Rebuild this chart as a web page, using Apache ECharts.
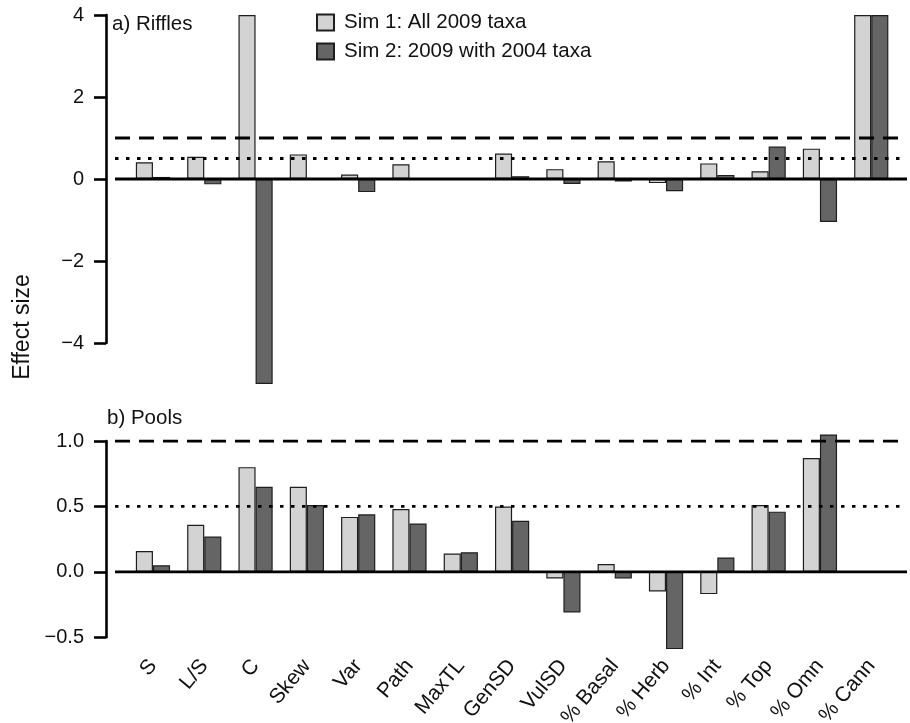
<!DOCTYPE html>
<html>
<head>
<meta charset="utf-8">
<script src="https://cdn.jsdelivr.net/npm/echarts@6/dist/echarts.min.js"></script>
<style>html,body{margin:0;padding:0;background:#fff}#c{width:910px;height:723px}</style>
</head>
<body>
<div id="c"></div>
<script>
const categories = ['S','L/S','C','Skew','Var','Path','MaxTL','GenSD','VulSD','% Basal','% Herb','% Int','% Top','% Omn','% Cann'];
const seriesNames = ['Sim 1: All 2009 taxa','Sim 2: 2009 with 2004 taxa'];
const rifflesSim1 = [0.41, 0.54, 4, 0.60, 0.11, 0.36, 0, 0.62, 0.24, 0.43, -0.10, 0.38, 0.19, 0.74, 4];
const rifflesSim2 = [0.05, -0.13, -5, 0, -0.32, 0, 0, 0.07, -0.12, -0.06, -0.30, 0.10, 0.79, -1.05, 4];
const poolsSim1 = [0.16, 0.36, 0.80, 0.65, 0.42, 0.48, 0.14, 0.50, -0.05, 0.06, -0.15, -0.17, 0.51, 0.87, null];
const poolsSim2 = [0.05, 0.27, 0.65, 0.51, 0.44, 0.37, 0.15, 0.39, -0.31, -0.05, -0.59, 0.11, 0.46, 1.05, null];
const rifflesTicks = [-4, -2, 0, 2, 4];
const poolsTicks = [-0.5, 0.0, 0.5, 1.0];
const refLevels = [0, 0.5, 1];

const FONT = 'Liberation Sans, Arial, Helvetica, sans-serif';
const LIGHT = '#d3d3d3', DARK = '#656565', EDGE = '#1e1e1e';
const plotLeft = 127.3, plotWidth = 769.6;
const lineLeft = 115, lineWidth = 792;
const panels = [
  {top: 15, height: 328, min: -4, max: 4, interval: 2, fmt: v => String(v).replace('-', '\u2212')},
  {top: 441, height: 196.3, min: -0.5, max: 1, interval: 0.5, fmt: v => v.toFixed(1).replace('-', '\u2212')}
];

const grid = [], xAxis = [], yAxis = [], series = [];
panels.forEach((p, i) => {
  grid.push({left: plotLeft, width: plotWidth, top: p.top, height: p.height, containLabel: false, outerBoundsMode: 'none'});
  xAxis.push({
    type: 'category', gridIndex: i, data: categories,
    axisLine: {show: false}, axisTick: {show: false},
    axisLabel: i === 1 ? {show: true, rotate: 50, margin: 25, fontSize: 21, color: '#111', fontFamily: FONT, interval: 0} : {show: false},
    splitLine: {show: false}
  });
  yAxis.push({
    type: 'value', gridIndex: i, min: p.min, max: p.max, interval: p.interval,
    offset: plotLeft - 106,
    axisLine: {show: true, lineStyle: {color: '#000', width: 2.6}},
    axisTick: {show: true, length: 12, lineStyle: {color: '#000', width: 2.6}},
    axisLabel: {margin: 22, fontSize: 20, color: '#111', fontFamily: FONT, formatter: p.fmt},
    splitLine: {show: false}
  });
});
// overlay grids for the reference lines (they span wider than the bars)
panels.forEach((p, i) => {
  grid.push({left: lineLeft, width: lineWidth, top: p.top, height: p.height, containLabel: false, outerBoundsMode: 'none'});
  xAxis.push({type: 'value', gridIndex: 2 + i, min: 0, max: 1, show: false});
  yAxis.push({type: 'value', gridIndex: 2 + i, min: p.min, max: p.max, show: false});
});

const data = [[rifflesSim1, rifflesSim2], [poolsSim1, poolsSim2]];
[0, 1].forEach(pi => {
  [0, 1].forEach(si => {
    series.push({
      type: 'bar', name: seriesNames[si], xAxisIndex: pi, yAxisIndex: pi,
      data: data[pi][si], clip: false,
      barGap: '0%', barCategoryGap: '33.33%',
      itemStyle: {color: si === 0 ? LIGHT : DARK, borderColor: EDGE, borderWidth: 1.2},
      emphasis: {disabled: true}, silent: true, animation: false, z: 2
    });
  });
});
const styles = {0: {type: 'solid'}, 0.5: {type: [3.5, 7.5]}, 1: {type: [15, 9]}};
[0, 1].forEach(pi => {
  refLevels.forEach(lv => {
    series.push({
      type: 'line', xAxisIndex: 2 + pi, yAxisIndex: 2 + pi,
      data: [[0, lv], [1, lv]], symbol: 'none', silent: true, animation: false, z: 5,
      lineStyle: {color: '#000', width: 2.8, type: styles[lv].type, cap: 'butt'}
    });
  });
});

const chart = echarts.init(document.getElementById('c'), null, {renderer: 'canvas'});
chart.setOption({
  backgroundColor: '#fff',
  animation: false,
  textStyle: {fontFamily: FONT},
  legend: {
    data: seriesNames, orient: 'vertical', left: 316, top: 12, padding: 0,
    itemWidth: 17, itemHeight: 16, itemGap: 8, icon: 'rect',
    textStyle: {fontSize: 20.5, color: '#111', fontFamily: FONT, lineHeight: 20, padding: [0, 0, 0, 5]},
    selectedMode: false
  },
  grid, xAxis, yAxis, series,
  graphic: [
    {type: 'text', left: 112, top: 14, style: {text: 'a) Riffles', fontSize: 20.5, fill: '#111', fontFamily: FONT}},
    {type: 'text', left: 107, top: 408, style: {text: 'b) Pools', fontSize: 20.5, fill: '#111', fontFamily: FONT}},
    {type: 'text', x: 23, y: 327, rotation: Math.PI / 2, style: {text: 'Effect size', fontSize: 23, fill: '#111', fontFamily: FONT, align: 'center', verticalAlign: 'middle'}}
  ]
});
</script>
</body>
</html>
